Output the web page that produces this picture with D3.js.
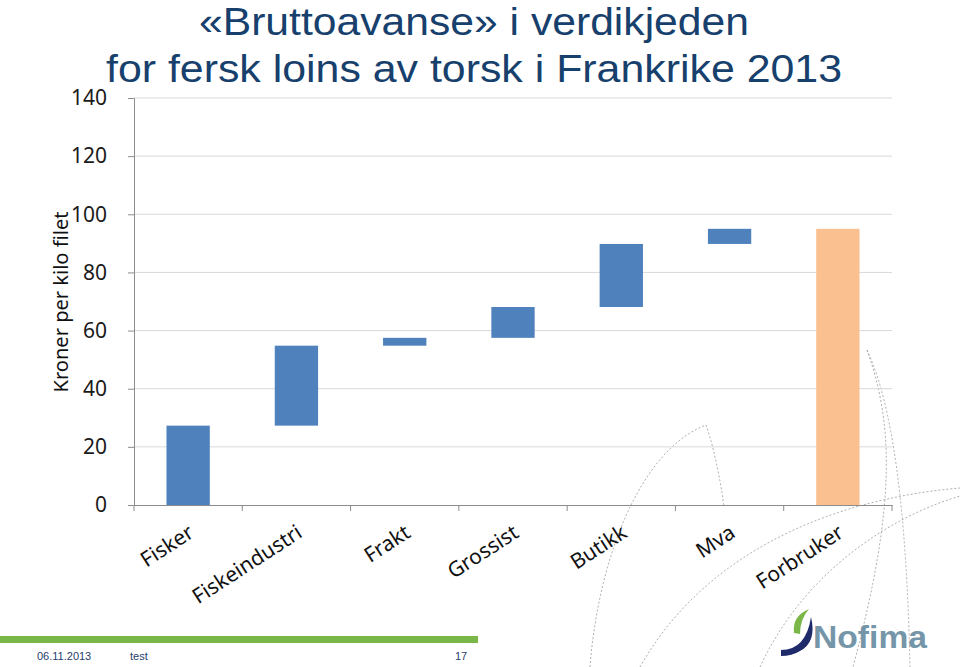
<!DOCTYPE html>
<html>
<head>
<meta charset="utf-8">
<title>Bruttoavanse</title>
<script src="https://cdn.jsdelivr.net/npm/d3@7"></script>
<style>
    body { margin: 0; background: #fff; }
    svg { display: block; }
</style>
</head>
<body>
<div id="chart"></div>
<script>
    // data
    var categories = ["Fisker", "Fiskeindustri", "Frakt", "Grossist", "Butikk", "Mva", "Forbruker"];
    var increments = [27.3, 27.5, 2.7, 10.6, 21.7, 5.2, 95.0];
    var isTotal = [false, false, false, false, false, false, true];
    var yTicks = [0, 20, 40, 60, 80, 100, 120, 140];
    var titleLines = ["«Bruttoavanse» i verdikjeden", "for fersk loins av torsk i Frankrike 2013"];
    var yTitle = "Kroner per kilo filet";
    var footer = ["06.11.2013", "test", "17"];

    var W = 960, H = 667;
    var svg = d3.select("#chart").append("svg").attr("width", W).attr("height", H);

    // decorative dashed curves in the background
    var deco = [
        "M590,667 C598,560 640,450 706,425",
        "M706,425 C715,450 722,490 724,507",
        "M640,667 C700,560 820,500 960,488",
        "M760,667 C800,580 880,520 960,496",
        "M867,350 Q905,430 910,667",
        "M867,350 C892,420 898,500 853,667"
    ];
    svg.append("g").selectAll("path").data(deco).enter().append("path")
        .attr("d", function(d) { return d; })
        .attr("fill", "none")
        .attr("stroke", "#9a9a9a")
        .attr("stroke-width", 0.8)
        .attr("stroke-dasharray", "2,2");

    // waterfall start/end
    var rows = [];
    var run = 0;
    categories.forEach(function(c, i) {
        if (isTotal[i]) {
            rows.push({ cat: c, y0: 0, y1: increments[i], total: true });
        } else {
            rows.push({ cat: c, y0: run, y1: run + increments[i], total: false });
            run += increments[i];
        }
    });

    var x = d3.scaleBand().domain(categories).range([134, 892]);
    var y = d3.scaleLinear().domain([0, 140]).range([505, 98]);
    var bw = x.bandwidth() * 0.4;

    // gridlines
    svg.append("g").selectAll("line").data(yTicks.slice(1)).enter().append("line")
        .attr("x1", 134).attr("x2", 892)
        .attr("y1", function(d) { return y(d); })
        .attr("y2", function(d) { return y(d); })
        .attr("stroke", "#d9d9d9").attr("stroke-width", 1);

    // y axis
    var yAxis = svg.append("g").attr("transform", "translate(134,0)")
        .call(d3.axisLeft(y).tickValues(yTicks).tickSize(6).tickPadding(21));
    yAxis.select(".domain").attr("stroke", "#8c8c8c");
    yAxis.selectAll(".tick line").attr("stroke", "#8c8c8c");
    yAxis.selectAll("text")
        .attr("font-family", "Noto Sans, sans-serif")
        .attr("font-size", 21)
        .attr("fill", "#1a1a1a");

    // x axis
    var xAxis = svg.append("g").attr("transform", "translate(0,505)")
        .call(d3.axisBottom(x).tickSize(0).tickFormat(""));
    xAxis.select(".domain").attr("stroke", "#8c8c8c");
    var bounds = categories.map(function(c) { return x(c); }).concat([892]);
    xAxis.selectAll(".sep").data(bounds).enter().append("line")
        .attr("class", "sep")
        .attr("x1", function(d) { return d; }).attr("x2", function(d) { return d; })
        .attr("y1", 0).attr("y2", 6)
        .attr("stroke", "#8c8c8c");

    // category labels
    svg.append("g").selectAll("text").data(categories).enter().append("text")
        .attr("transform", function(d) {
            return "translate(" + (x(d) + x.bandwidth() / 2 - 2) + ",522) rotate(-33)";
        })
        .attr("text-anchor", "end")
        .attr("dy", "0.8em")
        .attr("font-family", "Noto Sans, sans-serif")
        .attr("font-size", 21)
        .attr("fill", "#111")
        .text(function(d) { return d; });

    // bars
    svg.append("g").selectAll("rect").data(rows).enter().append("rect")
        .attr("x", function(d) { return x(d.cat) + (x.bandwidth() - bw) / 2; })
        .attr("width", bw)
        .attr("y", function(d) { return y(d.y1); })
        .attr("height", function(d) { return y(d.y0) - y(d.y1); })
        .attr("fill", function(d) { return d.total ? "#fac090" : "#4f81bd"; });

    // y title
    svg.append("text")
        .attr("transform", "translate(68,302) rotate(-90)")
        .attr("text-anchor", "middle")
        .attr("font-family", "Noto Sans, sans-serif")
        .attr("font-size", 20)
        .attr("fill", "#111")
        .attr("textLength", 181)
        .attr("lengthAdjust", "spacingAndGlyphs")
        .text(yTitle);

    // title
    var tW = [550, 736];
    svg.append("g").selectAll("text").data(titleLines).enter().append("text")
        .attr("x", 474)
        .attr("y", function(d, i) { return 35 + i * 47; })
        .attr("text-anchor", "middle")
        .attr("font-family", "Liberation Sans, Arial, sans-serif")
        .attr("font-size", 38)
        .attr("fill", "#17406d")
        .attr("textLength", function(d, i) { return tW[i]; })
        .attr("lengthAdjust", "spacingAndGlyphs")
        .text(function(d) { return d; });

    // footer
    svg.append("rect").attr("x", 0).attr("y", 636).attr("width", 478).attr("height", 7).attr("fill", "#7ab648");
    var fx = [37, 130, 455];
    svg.append("g").selectAll("text").data(footer).enter().append("text")
        .attr("x", function(d, i) { return fx[i]; })
        .attr("y", 660)
        .attr("font-family", "Liberation Sans, Arial, sans-serif")
        .attr("font-size", 11)
        .attr("fill", "#1f3d6d")
        .text(function(d) { return d; });

    // logo
    var logo = svg.append("g");
    logo.append("path")
        .attr("d", "M781,650 Q806,650 811,617 Q817,642 800,651 Q792,656 781,656 Z")
        .attr("fill", "#1f2a6b");
    logo.append("path")
        .attr("d", "M794,633 Q792,616 809,609 Q800,619 800,634 Z")
        .attr("fill", "#7ab648");
    logo.append("text")
        .attr("x", 813).attr("y", 648)
        .attr("font-family", "Liberation Sans, Arial, sans-serif")
        .attr("font-weight", "bold")
        .attr("font-size", 32)
        .attr("fill", "#7596a8")
        .attr("textLength", 114)
        .attr("lengthAdjust", "spacingAndGlyphs")
        .text("Nofima");
</script>
</body>
</html>
